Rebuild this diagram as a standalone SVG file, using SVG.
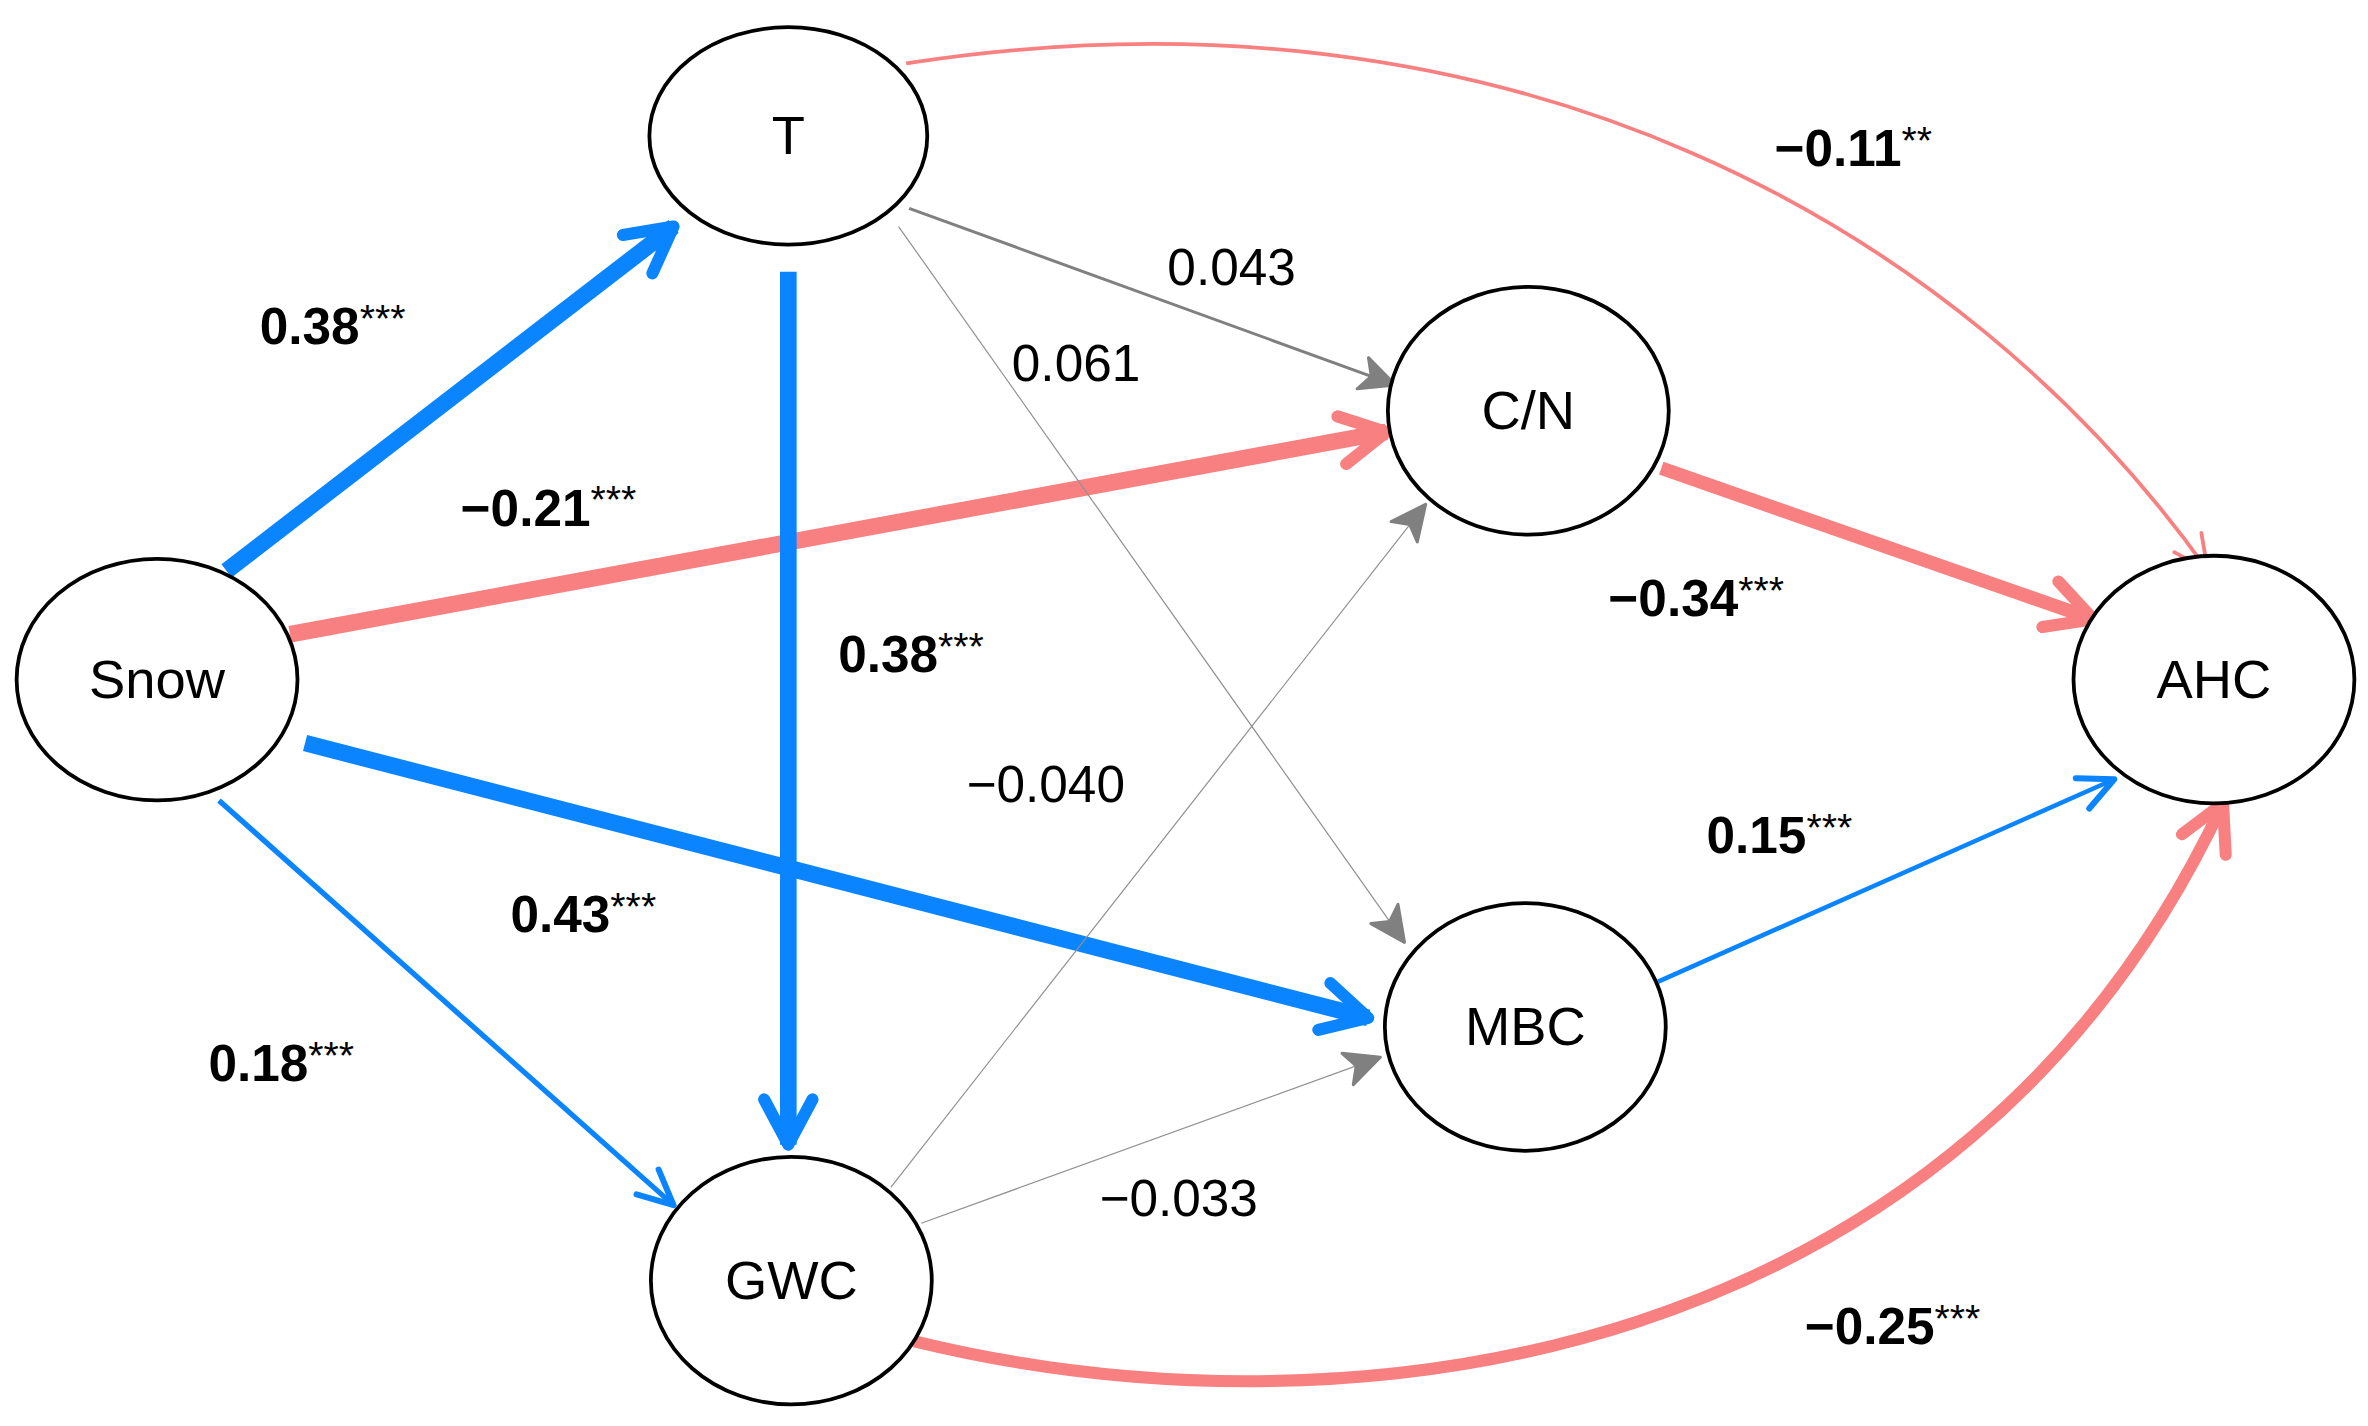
<svg xmlns="http://www.w3.org/2000/svg" width="2368" height="1426" viewBox="0 0 2368 1426">
<style>
.n{fill:#fff;stroke:#000;stroke-width:2.5}
.t{font-family:"Liberation Sans",Arial,sans-serif;font-size:36px;text-anchor:middle;dominant-baseline:central}
.b{font-family:"Liberation Sans",Arial,sans-serif;font-size:34px;font-weight:bold}
.s{font-size:26px;font-weight:normal}
.p{font-family:"Liberation Sans",Arial,sans-serif;font-size:34px}
.e{fill:none}
</style>
<defs>
<marker id="bL" markerUnits="userSpaceOnUse" viewBox="0 0 40 40" markerWidth="40" markerHeight="40" refX="36" refY="20" orient="auto"><path d="M6,4 L36,20 L6,36" fill="none" stroke="#0a84ff" stroke-width="8" stroke-linecap="round" stroke-linejoin="round"/></marker>
<marker id="pL" markerUnits="userSpaceOnUse" viewBox="0 0 40 40" markerWidth="40" markerHeight="40" refX="36" refY="20" orient="auto"><path d="M6,4 L36,20 L6,36" fill="none" stroke="#f88080" stroke-width="8" stroke-linecap="round" stroke-linejoin="round"/></marker>
<marker id="bS" markerUnits="userSpaceOnUse" viewBox="0 0 30 30" markerWidth="30" markerHeight="30" refX="27" refY="15" orient="auto"><path d="M4,4 L27,15 L4,26" fill="none" stroke="#0a84ff" stroke-width="4" stroke-linecap="round" stroke-linejoin="round"/></marker>
<marker id="pS" markerUnits="userSpaceOnUse" viewBox="0 0 30 30" markerWidth="30" markerHeight="30" refX="27" refY="15" orient="auto"><path d="M4,4 L27,15 L4,26" fill="none" stroke="#f88080" stroke-width="2.5" stroke-linecap="round" stroke-linejoin="round"/></marker>
<marker id="gS" markerUnits="userSpaceOnUse" viewBox="0 0 30 30" markerWidth="30" markerHeight="30" refX="27" refY="15" orient="auto"><path d="M4,4 L27,15 L4,26 L10,15 Z" fill="#808080" stroke="#808080" stroke-width="2" stroke-linejoin="round"/></marker>
</defs>
<g transform="scale(1.5102)">
<g id="connectors" class="e">
<path d="M600,42 C1000,-20 1300,150 1462,378" stroke="#f88080" stroke-width="2.5" marker-end="url(#pS)"/>
<path d="M605,888 C900,960 1300,900 1472,532" stroke="#f88080" stroke-width="8" marker-end="url(#pL)"/>
<line x1="150" y1="378" x2="446" y2="150" stroke="#0a84ff" stroke-width="11" marker-end="url(#bL)"/>
<line x1="192" y1="420" x2="918" y2="286" stroke="#f88080" stroke-width="11" marker-end="url(#pL)"/>
<line x1="202" y1="492" x2="906" y2="674" stroke="#0a84ff" stroke-width="11" marker-end="url(#bL)"/>
<line x1="145" y1="530" x2="446" y2="798" stroke="#0a84ff" stroke-width="3.5" marker-end="url(#bS)"/>
<line x1="522" y1="180" x2="522" y2="758" stroke="#0a84ff" stroke-width="11" marker-end="url(#bL)"/>
<line x1="602" y1="138" x2="924" y2="255" stroke="#808080" stroke-width="2" marker-end="url(#gS)"/>
<line x1="595" y1="150" x2="930" y2="624" stroke="#909090" stroke-width="0.8" marker-end="url(#gS)"/>
<line x1="590" y1="786" x2="944" y2="334" stroke="#909090" stroke-width="0.8" marker-end="url(#gS)"/>
<line x1="610" y1="810" x2="914" y2="700" stroke="#909090" stroke-width="0.8" marker-end="url(#gS)"/>
<line x1="1100" y1="310" x2="1386" y2="410" stroke="#f88080" stroke-width="9" marker-end="url(#pL)"/>
<line x1="1098" y1="650" x2="1400" y2="516" stroke="#0a84ff" stroke-width="3" marker-end="url(#bS)"/>
</g>
<g id="labels">
<text class="b" x="172" y="228">0.38<tspan class="s" dy="-8">***</tspan></text>
<text class="b" x="305" y="348">−0.21<tspan class="s" dy="-8">***</tspan></text>
<text class="b" x="555" y="445">0.38<tspan class="s" dy="-8">***</tspan></text>
<text class="b" x="338" y="617">0.43<tspan class="s" dy="-8">***</tspan></text>
<text class="b" x="138" y="716">0.18<tspan class="s" dy="-8">***</tspan></text>
<text class="b" x="1175" y="110">−0.11<tspan class="s" dy="-8">**</tspan></text>
<text class="b" x="1065" y="408">−0.34<tspan class="s" dy="-8">***</tspan></text>
<text class="b" x="1130" y="565">0.15<tspan class="s" dy="-8">***</tspan></text>
<text class="b" x="1195" y="890">−0.25<tspan class="s" dy="-8">***</tspan></text>
<text class="p" x="773" y="189">0.043</text>
<text class="p" x="670" y="252">0.061</text>
<text class="p" x="640" y="531">−0.040</text>
<text class="p" x="728" y="805">−0.033</text>
</g>
<g id="T"><ellipse class="n" cx="522" cy="90" rx="92" ry="72"/><text class="t" x="522" y="90">T</text></g>
<g id="Snow"><ellipse class="n" cx="104" cy="450" rx="93" ry="80"/><text class="t" x="104" y="450">Snow</text></g>
<g id="CN"><ellipse class="n" cx="1012" cy="272" rx="93" ry="82"/><text class="t" x="1012" y="272">C/N</text></g>
<g id="AHC"><ellipse class="n" cx="1466" cy="450" rx="93" ry="82"/><text class="t" x="1466" y="450">AHC</text></g>
<g id="MBC"><ellipse class="n" cx="1010" cy="680" rx="93" ry="82"/><text class="t" x="1010" y="680">MBC</text></g>
<g id="GWC"><ellipse class="n" cx="524" cy="848" rx="93" ry="82"/><text class="t" x="524" y="848">GWC</text></g>
</g>
</svg>
